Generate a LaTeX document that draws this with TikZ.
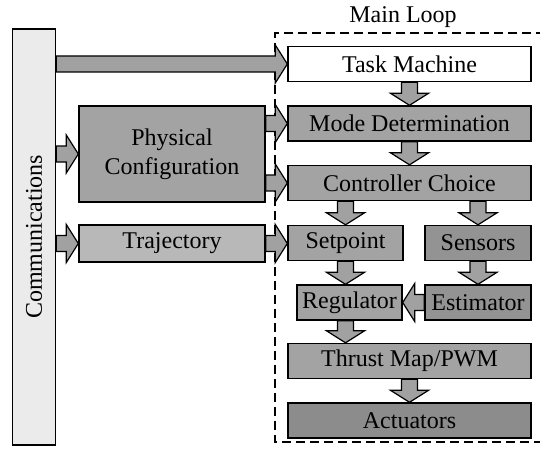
\documentclass[tikz,border=0pt]{standalone}
\usepackage{fontspec}
\setmainfont{Liberation Serif}
\usetikzlibrary{calc}

\definecolor{boxgray}{gray}{0.64}
\definecolor{darkbox}{gray}{0.55}
\definecolor{lightbox}{gray}{0.72}
\definecolor{commgray}{gray}{0.92}
\definecolor{arrowgray}{gray}{0.63}

\tikzset{
  block/.style={draw=black, line width=0.7pt, fill=boxgray, inner sep=0pt,
    minimum height=17.5pt, font=\fontsize{12}{14.5}\selectfont},
  fatarrow/.style={draw=black, line width=0.6pt, fill=arrowgray},
  loopframe/.style={dashed, line width=1pt, dash pattern=on 4.5pt off 2.5pt}
}

% block arrow between two points
\newcommand{\FatArrow}[2]{%
  \path[fatarrow] let \p1=(#1), \p2=(#2),
    \n1={atan2((\y2)-(\y1),(\x2)-(\x1))}, \n2={veclen((\x2)-(\x1),(\y2)-(\y1))} in
    {[shift={(\p1)}, rotate=\n1]
    (0pt,-4pt) -- (\n2-6pt,-4pt) -- (\n2-6pt,-9.5pt) -- (\n2,0pt)
    -- (\n2-6pt,9.5pt) -- (\n2-6pt,4pt) -- (0pt,4pt) -- cycle};}

\begin{document}
\begin{tikzpicture}[x=0.5pt, y=-0.5pt]
\useasboundingbox (0,0) rectangle (540,449);
%\draw[help lines, step=50] (0,0) grid (540,449);

% main loop frame
\draw[loopframe] (545,33) -- (275,33) -- (275,442) -- (545,442);
\node[font=\fontsize{12}{14}\selectfont] (looplbl) at (403,17) {Main Loop};

% left column
\node[block, fill=commgray, minimum width=21.5pt, minimum height=208pt] (comm) at (34,237)
  {\rotatebox{90}{Communications}};
\node[block, align=center, minimum width=93pt, minimum height=48pt] (phys) at (172,154)
  {Physical\\Configuration};
\node[block, fill=lightbox, minimum width=93pt, minimum height=18.5pt] (traj) at (172,243.5)
  {Trajectory};

% main loop blocks
\node[block, fill=white, minimum width=121.5pt] (task) at (409.5,64) {Task Machine};
\node[block, minimum width=121.5pt] (mode) at (409.5,123.5) {Mode Determination};
\node[block, minimum width=121.5pt] (ctrl) at (409.5,183) {Controller Choice};
\node[block, minimum width=57.5pt] (setp) at (345.5,243) {Setpoint};
\node[block, fill=darkbox!70!boxgray, minimum width=53pt] (sens) at (478,243) {Sensors};
\node[block, minimum width=52.5pt] (reg) at (349.5,302.5) {Regulator};
\node[block, fill=darkbox!70!boxgray, minimum width=53pt] (est) at (478,302.5) {Estimator};
\node[block, minimum width=121.5pt] (thrust) at (409.5,361) {Thrust Map/PWM};
\node[block, fill=darkbox, minimum width=121.5pt] (act) at (409.5,420.5) {Actuators};

% arrows
\FatArrow{comm.east |- task.west}{task.west}
\FatArrow{comm.east |- phys.west}{phys.west}
\FatArrow{comm.east |- traj.west}{traj.west}
\FatArrow{phys.east |- mode.west}{mode.west}
\FatArrow{phys.east |- ctrl.west}{ctrl.west}
\FatArrow{traj.east}{setp.west |- traj.east}
\FatArrow{task.south}{mode.north}
\FatArrow{mode.south}{ctrl.north}
\FatArrow{setp.north |- ctrl.south}{setp.north}
\FatArrow{sens.north |- ctrl.south}{sens.north}
\FatArrow{setp.south}{setp.south |- reg.north}
\FatArrow{sens.south}{est.north}
\FatArrow{est.west}{reg.east}
\FatArrow{setp.south |- reg.south}{setp.south |- thrust.north}
\FatArrow{thrust.south}{act.north}
\end{tikzpicture}
\end{document}
